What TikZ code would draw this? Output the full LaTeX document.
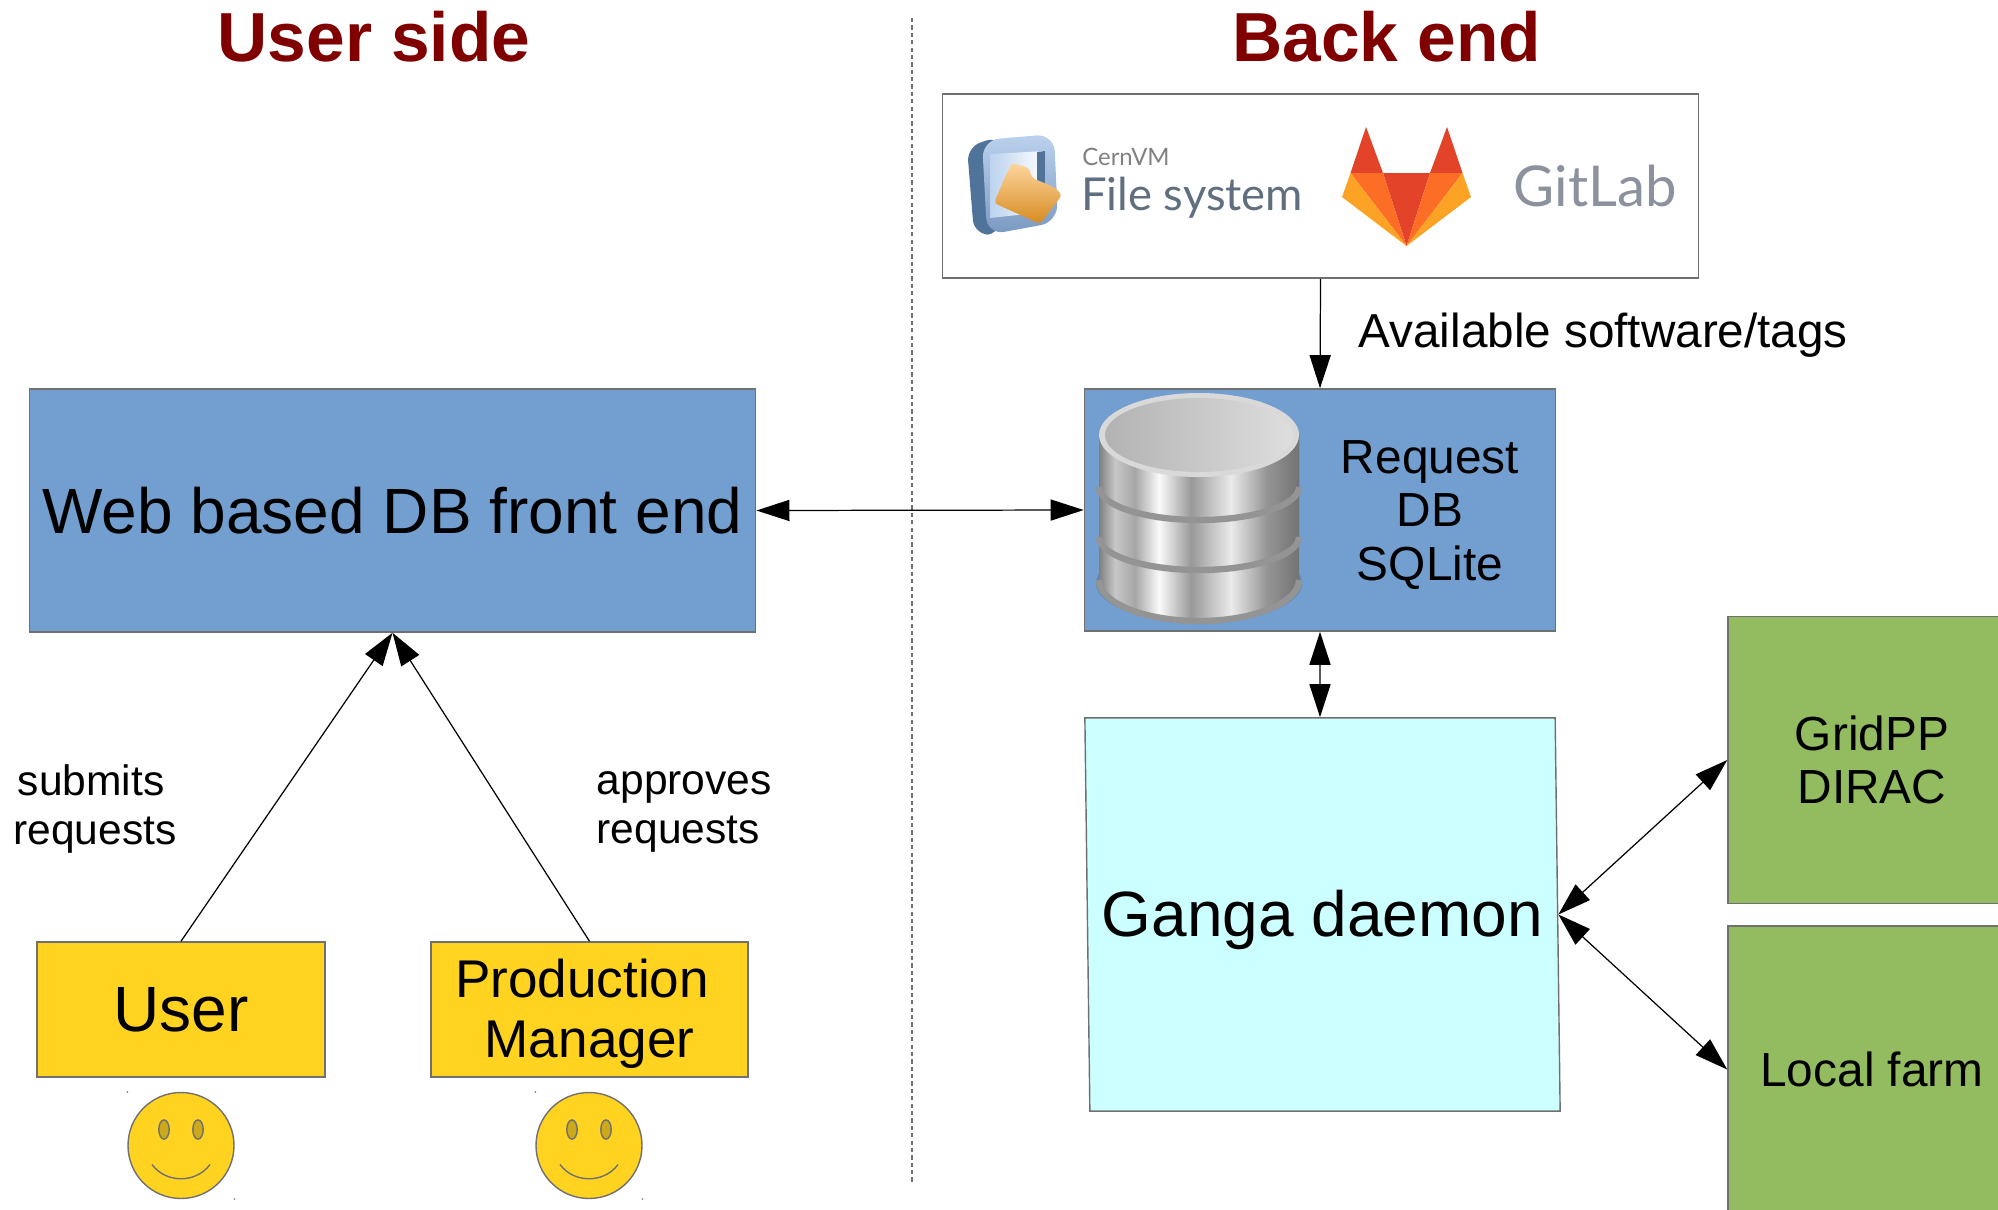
\documentclass[tikz,border=0pt]{standalone}
\usepackage{fontspec}
\setmainfont{Liberation Sans}
\newfontfamily\logofont{Lato}
\usetikzlibrary{arrows.meta, positioning}
\definecolor{titlered}{HTML}{800000}
\definecolor{boxblue}{HTML}{729FCF}
\definecolor{boxyellow}{HTML}{FFD320}
\definecolor{boxgreen}{HTML}{93BC60}
\definecolor{boxcyan}{HTML}{CCFFFF}
\definecolor{edgegray}{HTML}{707070}
\definecolor{labred}{HTML}{E24329}
\definecolor{laborange}{HTML}{FC6D26}
\definecolor{labyellow}{HTML}{FCA326}
\definecolor{labgray}{HTML}{8C929D}
\definecolor{iconedge}{HTML}{4F7399}
\definecolor{iconplate}{HTML}{8FB4E3}
\pgfdeclarehorizontalshading{dbmetal}{100bp}{
  color(0bp)=(black!50); color(25bp)=(black!50); color(29bp)=(black!22); color(34bp)=(black!35);
  color(40bp)=(black!2); color(48bp)=(black!40); color(58bp)=(black!8); color(67bp)=(black!42);
  color(75bp)=(black!55); color(100bp)=(black!55)}
\tikzset{
  basebox/.style={rectangle, draw=edgegray, line width=.4pt, inner sep=0pt, align=center},
  bluebox/.style={basebox, fill=boxblue},
  yellowbox/.style={basebox, fill=boxyellow, minimum height=1.35cm},
  greenbox/.style={basebox, fill=boxgreen, minimum width=2.88cm, minimum height=2.87cm,
    font=\fontsize{13.6}{15.2}\selectfont},
  titletext/.style={font=\fontsize{19.75}{23}\selectfont\bfseries, text=titlered},
  notetext/.style={inner sep=0pt, align=center, font=\fontsize{12.1}{13.8}\selectfont},
  link/.style={line width=.35pt, -{Triangle[length=9.4pt,width=6pt]}},
  biglink/.style={link, {Triangle[length=9.4pt,width=6pt]}-{Triangle[length=9.4pt,width=6pt]}},
  smiley/.pic={
    \draw[draw=edgegray, line width=.4pt, fill=boxyellow] (0,0) circle [radius=53];
    \foreach \eyex in {-17,17}
      \draw[draw=edgegray, line width=.4pt, fill=boxyellow!80!black] (\eyex,-16) ellipse [x radius=5.2, y radius=9.6];
    \draw[edgegray, line width=.4pt] (-29,19) .. controls (-15,38) and (15,38) .. (29,19);
    \fill[edgegray] (-53.5,-53.5) circle [radius=.8] (53.5,53.5) circle [radius=.8];
  }
}

\begin{document}
\begin{tikzpicture}[x=0.01cm, y=-0.01cm]
    \useasboundingbox (0,0) rectangle (1998,1209);

    \node[titletext] (userside) at (374,37) {User side};
    \node[titletext] (backend) at (1387,37) {Back end};
    \coordinate (divtop) at (912,18);
    \coordinate (divbot) at (912,1182);
    \draw[edgegray, line width=.35pt, dash pattern=on 1.2pt off .9pt] (divtop) -- (divbot);

    % logos
    \node[basebox, minimum width=7.56cm, minimum height=1.84cm] (logos) at (1320.5,186) {};
    \fill[iconedge, rounded corners=4pt] (967,147) -- (1000,136) -- (1000,235) -- (974,234) -- cycle;
    \shade[top color=iconplate!60!white, bottom color=iconplate!85!black, rounded corners=5pt]
      (982,140) -- (1054,134) -- (1058,222) -- (987,235) -- cycle;
    \shade[left color=iconplate!60!white, right color=white] (990,154) -- (1045,151) -- (1045,212) -- (990,218) -- cycle;
    \fill[iconedge] (1037,152) -- (1045,151) -- (1045,212) -- (1037,213) -- cycle;
    \shade[top color=labyellow!45!white, bottom color=labyellow!85!black, rounded corners=1pt]
      (1012,163) -- (1029,168) -- (1032,178) -- (1054,187) -- (1062,195) -- (1040,224) -- (994,203) -- (1005,177) -- cycle;
    \node[inner sep=0pt, text=black!50, font=\logofont\fontsize{6.8}{8}\selectfont] (cernvm) at (1126,157) {CernVM};
    \node[inner sep=0pt, text=iconedge!55!black!75, font=\logofont\fontsize{12.9}{15}\selectfont] (filesys) at (1192,198) {File system};
    \fill[labred] (1383,173) -- (1430,173) -- (1406.5,246) -- cycle;
    \foreach \side in {1,-1} {
      \begin{scope}[shift={(1406.5,0)}, xscale=\side]
        \fill[labred] (-40.5,127) -- (-56,173) -- (-23.5,173) -- cycle;
        \fill[laborange] (-56,173) -- (-23.5,173) -- (0,246) -- cycle;
        \fill[labyellow] (-56,173) -- (-64.5,197) -- (0,246) -- cycle;
      \end{scope}
    }
    \node[inner sep=0pt, text=labgray, font=\logofont\fontsize{16}{18}\selectfont] (gitlab) at (1595,186) {GitLab};

    % boxes
    \node[bluebox, minimum width=7.26cm, minimum height=2.43cm, font=\fontsize{18.2}{21}\selectfont] (web) at (392.5,510.5) {Web based DB front end};
    \node[bluebox, minimum width=4.71cm, minimum height=2.42cm] (reqdb) at (1320,510) {};
    \node[inner sep=0pt, align=center, font=\fontsize{13.6}{15.2}\selectfont] (reqtext) at (1430,515) {Request\\DB\\SQLite};
    \node[basebox, fill=boxcyan, xslant=-0.0127, transform shape, minimum width=4.70cm, minimum height=3.93cm] (ganga) at (1322.5,914.5) {};
    \node[inner sep=0pt, font=\fontsize{18.2}{21}\selectfont] (gangatext) at (1322.5,919.5) {Ganga daemon};
    \node[greenbox] (gridpp) at (1872,760) {GridPP\\DIRAC};
    \node[greenbox] (farm) at (1872,1069.5) {Local farm};
    \node[yellowbox, minimum width=2.88cm, font=\fontsize{18.2}{21}\selectfont] (user) at (181,1009.5) {User};
    \node[yellowbox, minimum width=3.17cm] (manager) at (589.5,1009.5) {};
    \node[inner sep=0pt, align=center, font=\fontsize{15.1}{17}\selectfont] (mgrlabel) at (589.5,1013.5) {Production\hbox to 4.2pt{}\\Manager};
    \pic (usersmile) at (181,1145.5) {smiley};
    \pic (mgrsmile) at (589,1145.5) {smiley};

    % request database
    \fill[boxblue!85!black] (1199,583) ellipse [x radius=103, y radius=40];
    \foreach \yedge/\ry in {580/41, 537/33, 487/33} {
      \shade[shading=dbmetal] (1099,435) -- (1099,\yedge) .. controls (1099,\yedge+0.55*\ry) and (1144,\yedge+\ry) .. (1199,\yedge+\ry)
        .. controls (1254,\yedge+\ry) and (1299,\yedge+0.55*\ry) .. (1299,\yedge) -- (1299,435) -- cycle;
      \draw[black!42, line width=1.8pt] (1099,\yedge) .. controls (1099,\yedge+0.55*\ry) and (1144,\yedge+\ry) .. (1199,\yedge+\ry)
        .. controls (1254,\yedge+\ry) and (1299,\yedge+0.55*\ry) .. (1299,\yedge);
    }
    \fill[black!15] (1199,435) ellipse [x radius=100, y radius=42];
    \shade[left color=black!30, right color=black!13] (1199,435) ellipse [x radius=94, y radius=37];

    % text beside arrows
    \node[notetext] (submits) at (95,809) {submits\hbox to 2.2pt{}\\requests};
    \node[notetext, align=left, anchor=west] (approves) at (596,812) {approves\\requests};
    \node[notetext, anchor=west, font=\fontsize{13.55}{15}\selectfont] (avail) at (1358,335) {Available software/tags};

    % connectors
    \draw[link] (user.north) -- (web.south);
    \draw[link] (manager.north) -- (web.south);
    \draw[link] (logos.south) -- (reqdb.north);
    \draw[biglink] (web.east) -- (reqdb.west);
    \draw[biglink] (reqdb.south) -- (ganga.north);
    \draw[biglink] (ganga.east) -- (gridpp.west);
    \draw[biglink] (ganga.east) -- (farm.west);
    \end{tikzpicture}
\end{document}
